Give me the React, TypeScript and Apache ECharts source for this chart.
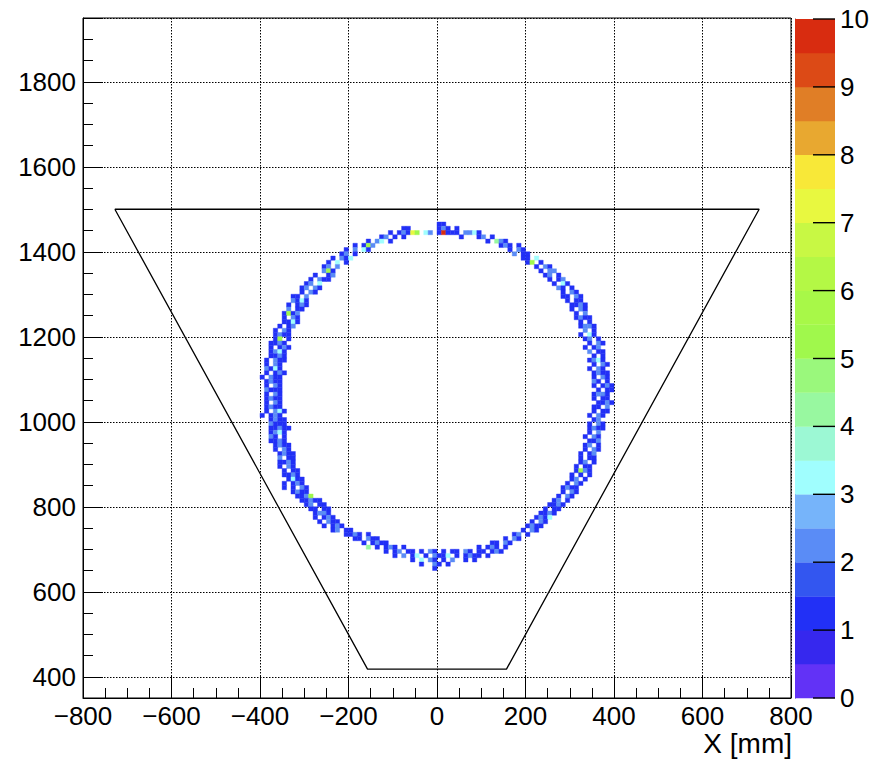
import React, { useEffect, useRef } from "react";
import * as echarts from "echarts";

const FONT = "'Liberation Sans', Arial, Helvetica, sans-serif";

const binSize = 10;

const paletteColors = [
  "#6232f6", "#3628ee", "#2230f6", "#3356f0", "#5a8cf6",
  "#76b4fa", "#a0fefe", "#9cf8d4", "#98f8a0", "#9af87c",
  "#a0f84c", "#a8f848", "#b4f845", "#c8f844", "#e8f840",
  "#f8e838", "#e8a830", "#e07e26", "#dc4a16", "#d82c10",
];
const contourLevels = [0, 0.5, 1, 1.5, 2, 2.5, 3, 3.5, 4, 4.5, 5, 5.5, 6, 6.5, 7, 7.5, 8, 8.5, 9, 9.5, 10];
const colorBarTicks = [0, 1, 2, 3, 4, 5, 6, 7, 8, 9, 10];

const trapezoidX = [-728, 728, 157, -157, -728];
const trapezoidY = [1500, 1500, 418, 418, 1500];

// [y lower edge, x lower edge of first bin, bin contents ('.' empty, 'a' = 10)]
const ringRows: [number, number, string][] = [
  [1460, 0, "11"],
  [1450, -80, "11"], [1450, 0, "121.1"],
  [1440, -110, "1.12175.32.1a111.2231"],
  [1430, -130, "12.1.1"], [1430, 50, "1"], [1430, 90, "12.1"],
  [1420, -160, "1.23.1"], [1420, 110, "1.421"],
  [1410, -190, "1.152"], [1410, 140, "121.1"],
  [1400, -210, "1.2.31"], [1400, 160, "1.21"],
  [1390, -220, "12.1"], [1390, 170, "2.11"],
  [1380, -240, "1.213"], [1380, 190, "11.3"],
  [1370, -250, "1.3.1"], [1370, 200, "15.1"],
  [1360, -260, "12.2"], [1360, 220, "1.21"],
  [1350, -270, ".251"], [1350, 230, "1.22"],
  [1340, -280, "1..12"], [1340, 240, "12.1"],
  [1330, -290, "1.211"], [1330, 250, "1.12"],
  [1320, -300, "12.3"], [1320, 260, "1.31"],
  [1310, -310, "12.21"], [1310, 270, "21.1"],
  [1300, -310, "1.21"], [1300, 280, "1.21"],
  [1290, -330, "11.2"], [1290, 280, "11.21"],
  [1280, -330, "2131"], [1280, 290, "1.11"],
  [1270, -340, "1.121"], [1270, 300, "1121"],
  [1260, -340, "2.11"], [1260, 300, "1.21"],
  [1250, -350, "1512"], [1250, 310, "1.2"],
  [1240, -350, "1.21"], [1240, 310, "1211"],
  [1230, -350, "1131"], [1230, 320, "1.1"],
  [1220, -360, "1.12"], [1220, 320, "1221"],
  [1210, -370, "1.21"], [1210, 330, "2.1"],
  [1200, -370, "1211"], [1200, 320, "1.31"],
  [1190, -370, "15.1"], [1190, 330, "12.1"],
  [1180, -380, "1121"], [1180, 340, "1.21"],
  [1170, -380, "1.121"], [1170, 330, "1.12"],
  [1160, -380, "1231"], [1160, 340, "2.11"],
  [1150, -380, "1121"], [1150, 350, "1.1"],
  [1140, -390, "1.211"], [1140, 340, "1231"],
  [1130, -390, "1.21"], [1130, 350, "1.21"],
  [1120, -390, "2131"], [1120, 340, "1.21"],
  [1110, -390, "1.121"], [1110, 350, "1211"],
  [1100, -400, "1.211"], [1100, 350, "1.21"],
  [1090, -390, "1211"], [1090, 350, "21.1"],
  [1080, -390, "1.21"], [1080, 350, "1.121"],
  [1070, -390, "2111"], [1070, 360, "1.11"],
  [1060, -390, "1.21"], [1060, 350, "1221"],
  [1050, -390, "1211"], [1050, 350, "1.11"],
  [1040, -390, "1.21"], [1040, 360, "1121"],
  [1030, -390, "1211"], [1030, 350, "11.2"],
  [1020, -390, "1.231"], [1020, 350, "1.11"],
  [1010, -400, "1.121"], [1010, 340, "1.21"],
  [1000, -380, "1211"], [1000, 350, "12"],
  [990, -380, "2111"], [990, 340, "1.21"],
  [980, -380, "11211"], [980, 340, "1211"],
  [970, -380, "1231"], [970, 340, "1.2"],
  [960, -380, "21.1"], [960, 330, "1.21"],
  [950, -380, "1121"], [950, 340, "112"],
  [940, -370, "1211"], [940, 330, "12.1"],
  [930, -370, "1.21"], [930, 330, "1.21"],
  [920, -360, "1211"], [920, 320, "1.12"],
  [910, -360, "2.11"], [910, 320, "1.11"],
  [900, -360, "1121"], [900, 320, "12.1"],
  [890, -360, "1.21"], [890, 310, "1.11"],
  [880, -350, "1.11"], [880, 310, "1521"],
  [870, -350, "1121"], [870, 300, "1.1.1"],
  [860, -340, "1311"], [860, 300, "12.1"],
  [850, -350, "1.121"], [850, 290, "1.21"],
  [840, -350, "1.1.21"], [840, 280, "1211"],
  [830, -330, "1211"], [830, 280, "1.21"],
  [820, -320, "1125"], [820, 270, "1.21"],
  [810, -310, "11211"], [810, 260, "12.1"],
  [800, -300, "12.11"], [800, 250, "1121"],
  [790, -290, "11.11"], [790, 240, "1.11"],
  [780, -280, "1221"], [780, 230, "1121"],
  [770, -280, "1.121"], [770, 220, "1213"],
  [760, -270, "1.211"], [760, 210, "1.21"],
  [750, -260, "1.121"], [750, 200, "1211"],
  [740, -240, "12.11"], [740, 190, "1.21"],
  [730, -210, "1121.1"], [730, 170, "12.1"],
  [720, -190, "11.211"], [720, 150, "1.21"],
  [710, -170, "1.1211"], [710, 120, "11.21"],
  [700, -160, "4.1.121.1"], [700, 90, "1.121.1"],
  [690, -120, "1.12.11.1.21.1.11.21.11.121"],
  [680, -100, "1.2.13.1.2113.1.1211.1"],
  [670, -60, "1.3.21.1.2..1.1"],
  [660, -40, "1..21.1"],
  [650, -10, "1"],
];

function buildCells(): number[][] {
  const cells: number[][] = [];
  for (const [y, x0, pat] of ringRows) {
    for (let i = 0; i < pat.length; i++) {
      const ch = pat[i];
      if (ch === ".") continue;
      const v = ch === "a" ? 10 : Number(ch);
      cells.push([x0 + i * binSize + binSize / 2, y + binSize / 2, v]);
    }
  }
  return cells;
}

function colorFor(v: number): string {
  let idx = 0;
  for (let i = 0; i < contourLevels.length - 1; i++) {
    if (v >= contourLevels[i]) idx = i;
  }
  return paletteColors[Math.min(idx, paletteColors.length - 1)];
}

export default function App() {
  const ref = useRef<HTMLDivElement>(null);

  useEffect(() => {
    if (!ref.current) return;
    const chart = echarts.init(ref.current, undefined, { renderer: "svg" });
    const cells = buildCells();
    const colorBarData = contourLevels.slice(0, -1).map((lo, i) => [0.5, lo, contourLevels[i + 1], i]);
    const trapezoid = trapezoidX.map((x, i) => [x, trapezoidY[i]]);
    const tickData = colorBarTicks.map((t) => [0.5, t]);

    const labelStyle = { fontSize: 26, color: "#000", fontFamily: FONT };

    chart.setOption({
      animation: false,
      backgroundColor: "#ffffff",
      textStyle: { fontFamily: FONT },
      grid: [
        { left: 83, top: 18, width: 708, height: 680, show: true, borderColor: "#000", borderWidth: 1, backgroundColor: "transparent" },
        { left: 795, top: 19, width: 40, height: 679, show: false },
      ],
      xAxis: [
        {
          type: "value", gridIndex: 0, min: -800, max: 800, interval: 200,
          axisLine: { show: true, onZero: false, lineStyle: { color: "#000", width: 1 } },
          axisTick: { show: true, inside: true, length: 22, lineStyle: { color: "#000", width: 1 } },
          minorTick: { show: true, splitNumber: 4, length: 10, lineStyle: { color: "#000", width: 1 } },
          splitLine: { show: true, lineStyle: { color: "#000", width: 1, type: [1.5, 1.5] } },
          axisLabel: { ...labelStyle, margin: 5, formatter: (v: number) => String(v).replace("-", "\u2212") },
        },
        {
          type: "value", gridIndex: 1, min: 0, max: 1, position: "bottom",
          axisLine: { show: false }, axisTick: { show: false }, axisLabel: { show: false }, splitLine: { show: false },
        },
      ],
      yAxis: [
        {
          type: "value", gridIndex: 0, min: 350, max: 1950, splitNumber: 8,
          axisLine: { show: true, onZero: false, lineStyle: { color: "#000", width: 1 } },
          axisTick: { show: true, inside: true, length: 20, lineStyle: { color: "#000", width: 1 } },
          minorTick: { show: true, splitNumber: 4, length: 10, lineStyle: { color: "#000", width: 1 } },
          splitLine: { show: true, lineStyle: { color: "#000", width: 1, type: [1.5, 1.5] } },
          axisLabel: { ...labelStyle, margin: 7, formatter: (v: number) => (v % 200 === 0 ? String(v) : "") },
        },
        {
          type: "value", gridIndex: 1, position: "right", min: 0, max: 10, interval: 1,
          axisLine: { show: true, lineStyle: { color: "#444", width: 1 } },
          axisTick: { show: false },
          splitLine: { show: false },
          axisLabel: { ...labelStyle, margin: 5, formatter: (v: number) => (colorBarTicks.includes(v) ? String(v) : "") },
        },
      ],
      series: [
        {
          type: "custom", xAxisIndex: 1, yAxisIndex: 1, silent: true, z: 1, data: colorBarData,
          renderItem: (params: any, api: any) => {
            const cs = params.coordSys;
            const lo = api.value(1), hi = api.value(2), i = api.value(3);
            const yTop = api.coord([0.5, hi])[1];
            const yBot = api.coord([0.5, lo])[1];
            return {
              type: "rect",
              shape: { x: cs.x, y: yTop, width: cs.width, height: yBot - yTop + 0.3 },
              style: { fill: paletteColors[i] },
            };
          },
        },
        {
          type: "custom", xAxisIndex: 1, yAxisIndex: 1, silent: true, z: 30, data: tickData,
          renderItem: (params: any, api: any) => {
            const cs = params.coordSys;
            const right = cs.x + cs.width;
            const y = api.coord([0.5, api.value(1)])[1];
            return {
              type: "rect", z2: 100,
              shape: { x: right - 22, y: y - 0.7, width: 22, height: 1.4 },
              style: { fill: "#000000" },
            };
          },
        },
        {
          type: "custom", xAxisIndex: 0, yAxisIndex: 0, silent: true, clip: true, data: cells,
          renderItem: (_p: any, api: any) => {
            const x = api.value(0), y = api.value(1), v = api.value(2);
            const a = api.coord([x - binSize / 2, y + binSize / 2]);
            const b = api.coord([x + binSize / 2, y - binSize / 2]);
            const c = colorFor(v);
            return { type: "rect", shape: { x: a[0], y: a[1], width: b[0] - a[0], height: b[1] - a[1] }, style: { fill: c, stroke: c, lineWidth: 0.4 } };
          },
        },
        {
          type: "line", xAxisIndex: 0, yAxisIndex: 0, data: trapezoid, symbol: "none", silent: true,
          lineStyle: { color: "#000", width: 1.3 },
        },
      ],
      graphic: [
        { id: "xtitle", type: "text", right: 83, top: 729, style: { text: "X [mm]", font: `28px ${FONT}`, fill: "#000" } },
      ],
    });

    return () => chart.dispose();
  }, []);

  return <div ref={ref} style={{ position: "fixed", left: 0, top: 0, width: 875, height: 759 }} />;
}
